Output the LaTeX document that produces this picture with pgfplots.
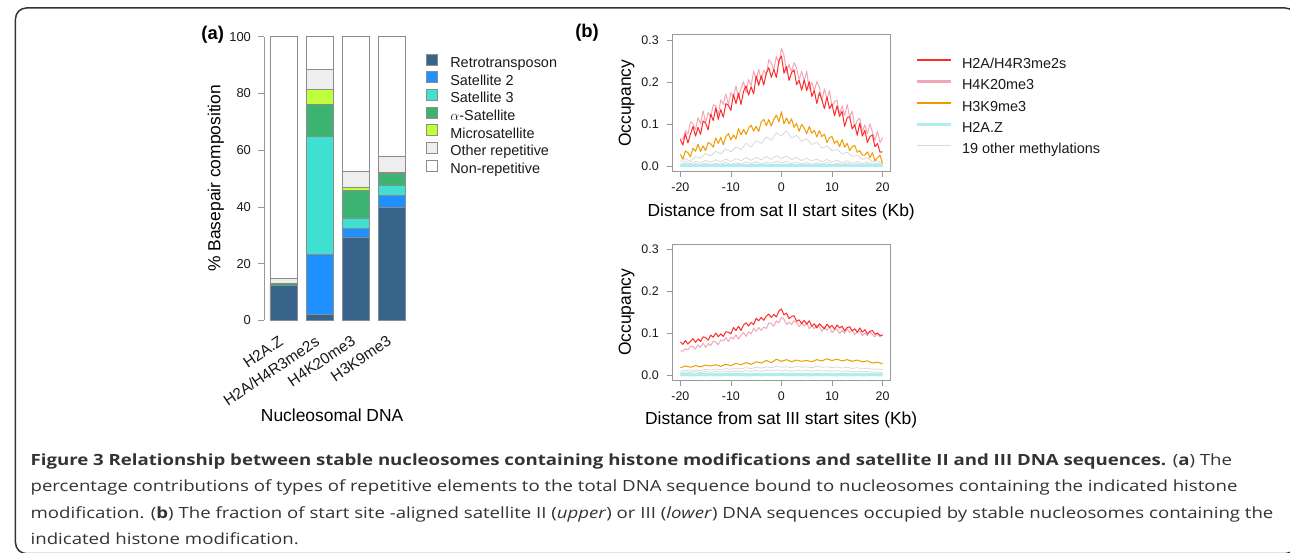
\documentclass[border=0pt]{standalone}
\usepackage{fontspec}
\setmainfont{Liberation Sans}
\newfontfamily\capfont{Open Sans}
\usepackage{graphicx}
\usepackage{pgfplots}
\usepackage{pgfplotstable}
\pgfplotsset{compat=1.18}

\definecolor{retro}{HTML}{36648B}
\definecolor{sattwo}{HTML}{1E90FF}
\definecolor{satthree}{HTML}{40E0D0}
\definecolor{alphasat}{HTML}{3CB371}
\definecolor{microsat}{HTML}{C0FF3E}
\definecolor{otherrep}{HTML}{EEEEEE}
\definecolor{cred}{HTML}{FF2A2A}
\definecolor{cpink}{HTML}{F2A7B6}
\definecolor{corange}{HTML}{EE9A00}
\definecolor{ccyan}{HTML}{AEEEEE}
\definecolor{cgray}{HTML}{D9D9D9}
\definecolor{captext}{HTML}{333333}

\pgfplotsset{
  sq/.style={legend image code/.code={\draw[##1, draw=black!45, line width=0.5pt] (0pt,-1pt) rectangle (11pt,10pt);}},
  bax/.style={scale only axis, width=219.3pt, height=137.5pt,
    xmin=-21.6, xmax=21.6, ymin=-0.012, ymax=0.312,
    axis line style={black!40, line width=0.6pt},
    tick style={black!40, line width=0.6pt},
    tick align=outside, major tick length=5pt, tick pos=left,
    xtick={-20,-10,0,10,20}, xticklabels={-20,-10,0,10,20},
    ytick={0,0.1,0.2,0.3}, yticklabels={0.0,0.1,0.2,0.3},
    tick label style={font=\fontsize{12.5}{14}\selectfont, text=black!90},
    xticklabel style={yshift=-3pt}, yticklabel style={xshift=-5pt},
    every axis plot/.append style={no marks, line join=round},
  },
  gr/.style={cgray, line width=0.8pt, forget plot},
}

% sat II, 0.5 kb steps
\pgfplotstableread{
x red pink orange
-20 .064 .066 .029
-19.5 .051 .065 .018
-19 .078 .085 .037
-18.5 .056 .077 .033
-18 .077 .106 .023
-17.5 .095 .101 .044
-17 .072 .087 .036
-16.5 .093 .116 .053
-16 .076 .101 .036
-15.5 .108 .132 .049
-15 .103 .104 .038
-14.5 .087 .128 .057
-14 .124 .118 .054
-13.5 .109 .146 .046
-13 .139 .144 .068
-12.5 .112 .123 .055
-12 .135 .158 .069
-11.5 .117 .147 .052
-11 .149 .172 .071
-10.5 .145 .147 .078
-10 .133 .175 .063
-9.5 .171 .164 .075
-9 .149 .191 .065
-8.5 .174 .163 .090
-8 .147 .185 .075
-7.5 .178 .201 .088
-7 .191 .175 .076
-6.5 .169 .206 .091
-6 .189 .191 .098
-5.5 .172 .226 .084
-5 .215 .205 .095
-4.5 .192 .230 .083
-4 .215 .206 .106
-3.5 .193 .228 .112
-3 .221 .218 .097
-2.5 .234 .253 .111
-2 .211 .245 .096
-1.5 .230 .228 .112
-1 .211 .261 .122
-0.5 .250 .244 .106
0 .262 .280 .130
0.5 .221 .263 .101
1 .237 .223 .115
1.5 .204 .242 .101
2 .222 .224 .113
2.5 .229 .246 .093
3 .194 .233 .102
3.5 .204 .205 .084
4 .181 .226 .100
4.5 .205 .203 .091
5 .180 .226 .078
5.5 .201 .183 .095
6 .166 .200 .079
6.5 .180 .179 .086
7 .149 .201 .070
7.5 .175 .188 .085
8 .158 .156 .071
8.5 .137 .184 .077
9 .165 .159 .057
9.5 .137 .180 .069
10 .148 .142 .071
10.5 .120 .154 .055
11 .144 .157 .061
11.5 .119 .125 .047
12 .131 .144 .064
12.5 .095 .120 .046
13 .116 .147 .055
13.5 .118 .117 .038
14 .089 .131 .047
14.5 .099 .094 .050
15 .074 .109 .034
15.5 .103 .115 .038
16 .072 .083 .027
16.5 .086 .099 .027
17 .057 .078 .035
17.5 .071 .101 .021
18 .075 .082 .033
18.5 .047 .062 .014
19 .055 .084 .021
19.5 .034 .056 .027
20 .035 .069 .008
}\satII

% sat II, other marks, 1 kb steps
\pgfplotstableread{
x g1 g2 g3 g4 cy
-20 .014 .008 .004 .002 .002
-19 .019 .013 .008 .004 .003
-18 .012 .006 .003 .002 .002
-17 .024 .012 .007 .005 .002
-16 .020 .009 .005 .002 .003
-15 .031 .015 .009 .004 .002
-14 .025 .010 .004 .003 .003
-13 .036 .016 .008 .005 .002
-12 .030 .011 .006 .002 .002
-11 .042 .018 .010 .004 .003
-10 .035 .012 .005 .003 .003
-9 .047 .019 .009 .006 .002
-8 .040 .014 .006 .002 .003
-7 .055 .021 .011 .005 .002
-6 .046 .015 .007 .003 .002
-5 .062 .022 .012 .006 .003
-4 .055 .016 .006 .003 .002
-3 .070 .024 .010 .005 .003
-2 .062 .017 .008 .002 .002
-1 .080 .026 .013 .006 .003
0 .072 .019 .009 .004 .003
1 .085 .025 .012 .006 .002
2 .068 .016 .007 .003 .003
3 .074 .022 .011 .005 .002
4 .060 .014 .006 .002 .003
5 .066 .020 .010 .005 .002
6 .052 .013 .005 .003 .002
7 .058 .018 .009 .005 .003
8 .044 .011 .006 .002 .002
9 .049 .017 .010 .004 .003
10 .037 .010 .004 .003 .002
11 .041 .015 .008 .005 .002
12 .030 .009 .005 .002 .003
13 .034 .014 .009 .004 .002
14 .024 .008 .004 .003 .002
15 .027 .012 .007 .005 .003
16 .017 .007 .003 .002 .002
17 .021 .011 .007 .004 .002
18 .011 .006 .004 .002 .003
19 .014 .009 .006 .003 .002
20 .007 .005 .003 .002 .002
}\satIIo

% sat III, 0.5 kb steps
\pgfplotstableread{
x red pink
-20 .080 .059
-19.5 .074 .058
-19 .083 .064
-18.5 .075 .061
-18 .081 .070
-17.5 .088 .069
-17 .079 .063
-16.5 .087 .073
-16 .081 .067
-15.5 .092 .077
-15 .090 .067
-14.5 .084 .076
-14 .096 .071
-13.5 .091 .082
-13 .101 .080
-12.5 .092 .073
-12 .099 .085
-11.5 .093 .082
-11 .104 .090
-10.5 .103 .081
-10 .099 .091
-9.5 .114 .087
-9 .107 .097
-8.5 .117 .087
-8 .107 .095
-7.5 .120 .102
-7 .125 .093
-6.5 .118 .104
-6 .126 .099
-5.5 .121 .112
-5 .136 .105
-4.5 .130 .114
-4 .138 .107
-3.5 .131 .115
-3 .141 .112
-2.5 .146 .125
-2 .138 .123
-1.5 .145 .117
-1 .139 .130
-0.5 .153 .125
0 .158 .138
0.5 .144 .134
1 .148 .121
1.5 .135 .127
2 .140 .121
2.5 .142 .130
3 .129 .126
3.5 .132 .116
4 .123 .124
4.5 .131 .117
5 .122 .125
5.5 .130 .111
6 .117 .118
6.5 .123 .111
7 .113 .120
7.5 .123 .116
8 .117 .105
8.5 .111 .115
9 .122 .107
9.5 .114 .115
10 .119 .102
10.5 .110 .108
11 .120 .110
11.5 .113 .100
12 .117 .107
12.5 .106 .101
13 .114 .111
13.5 .116 .102
14 .106 .108
14.5 .111 .097
15 .103 .103
15.5 .113 .105
16 .103 .095
16.5 .109 .101
17 .099 .095
17.5 .105 .104
18 .107 .098
18.5 .098 .092
19 .101 .100
19.5 .095 .092
20 .096 .098
}\satIII

% sat III, other marks, 1 kb steps
\pgfplotstableread{
x orange g1 g2 g3 cy
-20 .019 .010 .006 .003 .002
-19 .023 .013 .009 .005 .003
-18 .020 .011 .007 .003 .002
-17 .024 .014 .010 .004 .002
-16 .021 .012 .007 .003 .003
-15 .025 .015 .010 .005 .002
-14 .023 .013 .008 .003 .003
-13 .026 .016 .011 .005 .002
-12 .022 .014 .008 .004 .002
-11 .027 .017 .011 .005 .003
-10 .024 .015 .009 .003 .003
-9 .029 .018 .012 .006 .002
-8 .026 .016 .009 .004 .003
-7 .031 .019 .012 .005 .002
-6 .027 .017 .010 .004 .002
-5 .033 .020 .013 .006 .003
-4 .030 .018 .010 .004 .002
-3 .036 .021 .013 .006 .003
-2 .031 .019 .011 .004 .002
-1 .039 .022 .014 .006 .003
0 .034 .020 .011 .005 .003
1 .038 .021 .013 .006 .002
2 .033 .019 .010 .004 .003
3 .037 .022 .013 .006 .002
4 .034 .020 .011 .004 .003
5 .036 .021 .013 .006 .002
6 .033 .019 .010 .004 .002
7 .038 .022 .013 .005 .003
8 .035 .020 .011 .004 .002
9 .040 .021 .012 .006 .003
10 .036 .019 .010 .004 .002
11 .039 .021 .012 .005 .002
12 .035 .018 .010 .004 .003
13 .038 .020 .012 .005 .002
14 .034 .017 .009 .004 .002
15 .037 .019 .011 .005 .003
16 .033 .016 .009 .003 .002
17 .035 .018 .010 .005 .002
18 .030 .015 .008 .003 .003
19 .032 .016 .009 .004 .002
20 .028 .014 .007 .003 .002
}\satIIIo

\newcommand\capsize{\capfont\fontsize{15.5}{19}\selectfont}
\newcommand\labsize{\fontsize{17.5}{20}\selectfont}
\newsavebox\capref

\begin{document}
\sbox\capref{\capsize percentage contributions of types of repetitive elements to the total DNA sequence bound to nucleosomes containing the indicated histone}
\pgfmathsetmacro\capscale{1212/\the\wd\capref}
\begin{tikzpicture}[x=1pt,y=1pt]
\useasboundingbox (0,0) rectangle (1290,-555);
\draw[line width=1.5pt, black!80, rounded corners=11pt] (10,-8) rectangle (1296,-556);

% ---------- (a) stacked bars
\begin{axis}[
  at={(260pt,-321.7pt)}, anchor=south west,
  scale only axis, width=146pt, height=285pt,
  xmin=260, xmax=406, ymin=0, ymax=100,
  ybar stacked, bar width=27,
  clip=false,
  axis y line*=left, axis x line*=bottom,
  x axis line style={draw=none}, y axis line style={black!40, line width=0.6pt},
  xtick style={draw=none}, ytick style={black!40, line width=0.6pt},
  tick align=outside, major tick length=6pt,
  ytick={0,20,40,60,80,100}, yticklabels={0,20,40,60,80,100},
  xtick={279,315.3,351.7,387.7},
  xticklabels={H2A.Z,H2A/H4R3me2s,H4K20me3,H3K9me3},
  tick label style={font=\fontsize{13}{15}\selectfont, text=black!90},
  yticklabel style={xshift=-4pt},
  xticklabel style={rotate=34, anchor=north east, inner sep=0pt,
    font=\fontsize{15.5}{17}\selectfont, xshift=-9pt, yshift=-4pt},
  legend cell align=left,
  legend style={draw=none, fill=none, at={(1.1096,0.94)}, anchor=north west,
    inner sep=0pt, row sep=1pt, column sep=13pt,
    nodes={inner sep=0pt, text height=10pt, text depth=3pt,
      font=\fontsize{14.5}{16}\selectfont, text=black!90}},
  every axis plot/.append style={draw=black!45, line width=0.5pt},
]
\addplot[fill=retro, sq] coordinates {(279,12.5) (315.3,2.2) (351.7,29.4) (387.7,39.9)};
\addlegendentry{Retrotransposon}
\addplot[fill=sattwo, sq] coordinates {(279,0) (315.3,21.1) (351.7,3.1) (387.7,4.1)};
\addlegendentry{Satellite 2}
\addplot[fill=satthree, sq] coordinates {(279,0) (315.3,41.6) (351.7,3.6) (387.7,3.7)};
\addlegendentry{Satellite 3}
\addplot[fill=alphasat, sq] coordinates {(279,0.4) (315.3,11.2) (351.7,9.7) (387.7,4.0)};
\addlegendentry{$\alpha$-Satellite}
\addplot[fill=microsat, sq] coordinates {(279,0.3) (315.3,5.4) (351.7,1.2) (387.7,0.6)};
\addlegendentry{Microsatellite}
\addplot[fill=otherrep, sq] coordinates {(279,1.8) (315.3,6.9) (351.7,5.6) (387.7,5.6)};
\addlegendentry{Other repetitive}
\addplot[fill=white, sq] coordinates {(279,85.0) (315.3,11.6) (351.7,47.4) (387.7,42.1)};
\addlegendentry{Non-repetitive}
\end{axis}

% ---------- (b) upper: satellite II
\begin{axis}[bax, at={(669.6pt,-172.4pt)}, anchor=south west,
  legend image code/.code={\draw[#1] (0pt,4.5pt) -- (34pt,4.5pt);},
  legend cell align=left,
  legend style={draw=none, fill=none, at={(1.1145,0.83)}, anchor=north west,
    inner sep=0pt, row sep=8.5pt, column sep=10pt,
    nodes={inner sep=0pt, text height=10pt, text depth=3pt,
      font=\fontsize{14.5}{16}\selectfont, text=black!90}},
]
\addplot[gr] table[y=g4] {\satIIo};
\addplot[gr] table[y=g3] {\satIIo};
\addplot[gr] table[y=g2] {\satIIo};
\addplot[gr] table[y=g1] {\satIIo};
\addplot[ccyan, line width=3pt, forget plot] table[y=cy] {\satIIo};
\addplot[corange, line width=1pt, forget plot] table[y=orange] {\satII};
\addplot[cpink, line width=1pt, forget plot] table[y=pink] {\satII};
\addplot[cred, line width=1pt, forget plot] table[y=red] {\satII};
\addlegendimage{cred, line width=2.4pt}
\addlegendentry{H2A/H4R3me2s}
\addlegendimage{cpink, line width=2.4pt}
\addlegendentry{H4K20me3}
\addlegendimage{corange, line width=2.4pt}
\addlegendentry{H3K9me3}
\addlegendimage{ccyan, line width=2.4pt}
\addlegendentry{H2A.Z}
\addlegendimage{cgray, line width=1pt}
\addlegendentry{19 other methylations}
\end{axis}

% ---------- (b) lower: satellite III
\begin{axis}[bax, at={(669.6pt,-382.4pt)}, anchor=south west]
\addplot[gr] table[y=g3] {\satIIIo};
\addplot[gr] table[y=g2] {\satIIIo};
\addplot[gr] table[y=g1] {\satIIIo};
\addplot[ccyan, line width=3pt, forget plot] table[y=cy] {\satIIIo};
\addplot[corange, line width=1pt, forget plot] table[y=orange] {\satIIIo};
\addplot[cpink, line width=1pt, forget plot] table[y=pink] {\satIII};
\addplot[cred, line width=1pt, forget plot] table[y=red] {\satIII};
\end{axis}

% ---------- labels
\node[font=\bfseries\fontsize{18.5}{20}\selectfont] at (208pt,-35pt) {(a)};
\node[font=\bfseries\fontsize{18.5}{20}\selectfont] at (584pt,-33pt) {(b)};
\node[rotate=90, anchor=base, font=\labsize] at (215.7pt,-179pt) {\% Basepair composition};
\node[anchor=base, font=\labsize] at (328pt,-423pt) {Nucleosomal DNA};
\node[rotate=90, anchor=base, font=\labsize] at (628pt,-103.7pt) {Occupancy};
\node[rotate=90, anchor=base, font=\labsize] at (628pt,-313.7pt) {Occupancy};
\node[anchor=base, font=\labsize] at (779pt,-217pt) {Distance from sat II start sites (Kb)};
\node[anchor=base, font=\labsize] at (779pt,-426.7pt) {Distance from sat III start sites (Kb)};

% ---------- caption
\begin{scope}[every node/.style={anchor=base west, inner sep=0pt, text=captext, font=\capsize}]
\node at (25pt,-467.7pt) {\scalebox{\capscale}[1]{\textbf{Figure 3 Relationship between stable nucleosomes containing histone modifications and satellite II and III DNA sequences.} (\textbf{a}) The}};
\node at (25pt,-494pt) {\scalebox{\capscale}[1]{percentage contributions of types of repetitive elements to the total DNA sequence bound to nucleosomes containing the indicated histone}};
\node at (25pt,-520.3pt) {\scalebox{\capscale}[1]{modification. (\textbf{b}) The fraction of start site -aligned satellite II (\textit{upper}) or III (\textit{lower}) DNA sequences occupied by stable nucleosomes containing the}};
\node at (25pt,-546.6pt) {\scalebox{\capscale}[1]{indicated histone modification.}};
\end{scope}
\end{tikzpicture}
\end{document}
